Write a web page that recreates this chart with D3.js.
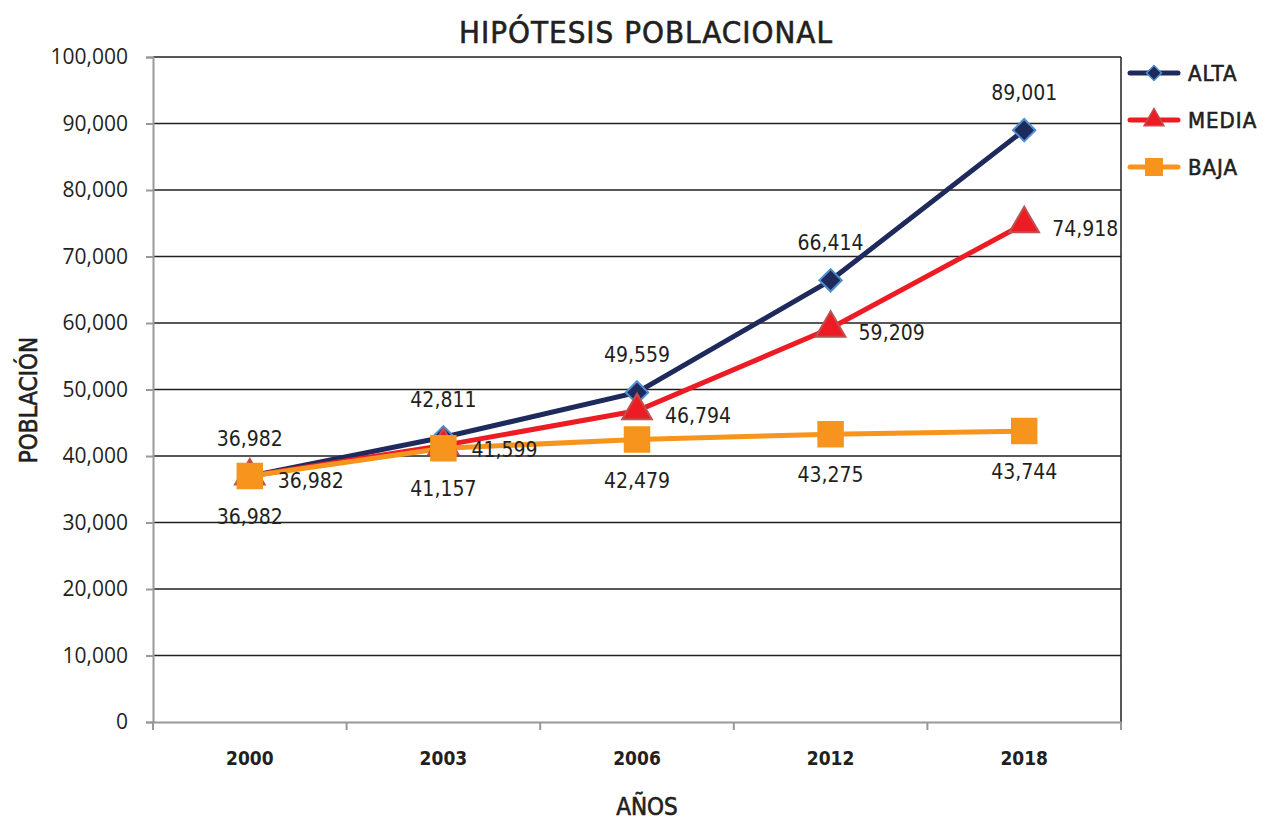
<!DOCTYPE html>
<html>
<head>
<meta charset="utf-8">
<script src="https://cdn.jsdelivr.net/npm/d3@7"></script>
<style>
  body { margin: 0; background: #fff; }
  text { font-family: "DejaVu Sans Condensed", "DejaVu Sans", sans-serif; fill: #231f20; }
  .heavy { stroke: #231f20; stroke-width: 0.6px; }
</style>
</head>
<body>
<div id="chart"></div>
<script>
// data
var years = ["2000", "2003", "2006", "2012", "2018"];
var alta  = [36982, 42811, 49559, 66414, 89001];
var media = [36982, 41599, 46794, 59209, 74918];
var baja  = [36982, 41157, 42479, 43275, 43744];
var yTicks = [0, 10000, 20000, 30000, 40000, 50000, 60000, 70000, 80000, 90000, 100000];

var svg = d3.select("#chart").append("svg").attr("width", 1265).attr("height", 821);

// plot area edges
var plotLeft = 153, plotRight = 1121, plotTop = 57, plotBottom = 722;

var x = d3.scaleBand().domain(years).range([plotLeft, plotRight]);
var y = d3.scaleLinear().domain([0, 100000]).range([plotBottom, plotTop]);
var fmt = d3.format(",");

// grid lines
svg.append("g").selectAll("line")
    .data(yTicks.filter(d => d > 0))
    .enter().append("line")
    .attr("x1", plotLeft).attr("x2", plotRight)
    .attr("y1", d => y(d)).attr("y2", d => y(d))
    .style("stroke", "#231f20").style("stroke-width", 1.5);

// right border
svg.append("line")
    .attr("x1", plotRight).attr("x2", plotRight).attr("y1", plotTop).attr("y2", plotBottom)
    .style("stroke", "#231f20").style("stroke-width", 1.5);

// y axis
var yAxis = svg.append("g")
    .attr("transform", "translate(" + plotLeft + ",0)")
    .call(d3.axisLeft(y).tickValues(yTicks).tickFormat(fmt).tickSize(7).tickPadding(18));
yAxis.select(".domain").style("stroke", "#999").style("stroke-width", 2);
yAxis.selectAll(".tick line").style("stroke", "#999").style("stroke-width", 2);
yAxis.selectAll("text").style("font-family", "'Open Sans', sans-serif").style("font-size", "21px").style("fill", "#231f20");

// x axis
var xAxis = svg.append("g")
    .attr("transform", "translate(0," + plotBottom + ")")
    .call(d3.axisBottom(x).tickSize(0).tickPadding(30));
xAxis.select(".domain").style("stroke", "#999").style("stroke-width", 2);
xAxis.selectAll("text").style("font-size", "19px").style("font-weight", "bold").style("fill", "#231f20");
svg.append("g").selectAll("line")
    .data(d3.range(years.length + 1))
    .enter().append("line")
    .attr("x1", i => plotLeft + i * x.bandwidth()).attr("x2", i => plotLeft + i * x.bandwidth())
    .attr("y1", plotBottom).attr("y2", plotBottom + 8)
    .style("stroke", "#999").style("stroke-width", 2);

// titles
svg.append("text").attr("class", "heavy").attr("x", 646).attr("y", 43).attr("text-anchor", "middle")
    .style("font-size", "31px").style("letter-spacing", "1px").text("HIPÓTESIS POBLACIONAL");
svg.append("text").attr("class", "heavy").attr("x", 647).attr("y", 815).attr("text-anchor", "middle")
    .style("font-size", "24px").text("AÑOS");
svg.append("text").attr("class", "heavy").attr("transform", "translate(37,400) rotate(-90)").attr("text-anchor", "middle")
    .style("font-size", "24px").text("POBLACIÓN");

// diamond = square turned 45 degrees
var series = [
    { name: "ALTA", values: alta, color: "#1f2a5c", fill: "#1f2a5c", stroke: "#4f8fd0", shape: d3.symbolSquare, rot: 45, size: 250, pos: "above" },
    { name: "MEDIA", values: media, color: "#ed1c24", fill: "#ed1c24", stroke: "#c0504d", shape: d3.symbolTriangle, rot: 0, size: 380, pos: "right" },
    { name: "BAJA", values: baja, color: "#f7941d", fill: "#f7941d", stroke: "#f7941d", shape: d3.symbolSquare, rot: 0, size: 600, pos: "below" }
];

var line = d3.line()
    .x((d, i) => x(years[i]) + x.bandwidth() / 2)
    .y(d => y(d));

series.forEach(function (s) {
    svg.append("path").datum(s.values)
        .attr("d", line)
        .style("fill", "none").style("stroke", s.color).style("stroke-width", 5);
});

series.forEach(function (s) {
    var g = svg.append("g");
    g.selectAll("path").data(s.values).enter().append("path")
        .attr("d", d3.symbol().type(s.shape).size(s.size))
        .attr("transform", (d, i) => "translate(" + (x(years[i]) + x.bandwidth() / 2) + "," + y(d) + ") rotate(" + s.rot + ")")
        .style("fill", s.fill).style("stroke", s.stroke).style("stroke-width", 2);
    g.selectAll("text").data(s.values).enter().append("text")
        .attr("x", (d, i) => x(years[i]) + x.bandwidth() / 2 + (s.pos == "right" ? 28 : 0))
        .attr("y", d => y(d) + (s.pos == "above" ? -30 : s.pos == "below" ? 48 : 12))
        .attr("text-anchor", s.pos == "right" ? "start" : "middle")
        .style("font-size", "21px")
        .text(d => fmt(d));
});

// legend
series.forEach(function (s, i) {
    var ly = 73 + i * 47;
    svg.append("line").attr("x1", 1130).attr("x2", 1178).attr("y1", ly).attr("y2", ly)
        .style("stroke", s.color).style("stroke-width", 5).style("stroke-linecap", "round");
    svg.append("path")
        .attr("d", d3.symbol().type(s.shape).size(s.size * 0.45))
        .attr("transform", "translate(1154," + ly + ") rotate(" + s.rot + ")")
        .style("fill", s.fill).style("stroke", s.stroke).style("stroke-width", 1.5);
    svg.append("text").attr("class", "heavy").attr("x", 1188).attr("y", ly + 8)
        .style("font-size", "22px").style("letter-spacing", "1px").text(s.name);
});
</script>
</body>
</html>
